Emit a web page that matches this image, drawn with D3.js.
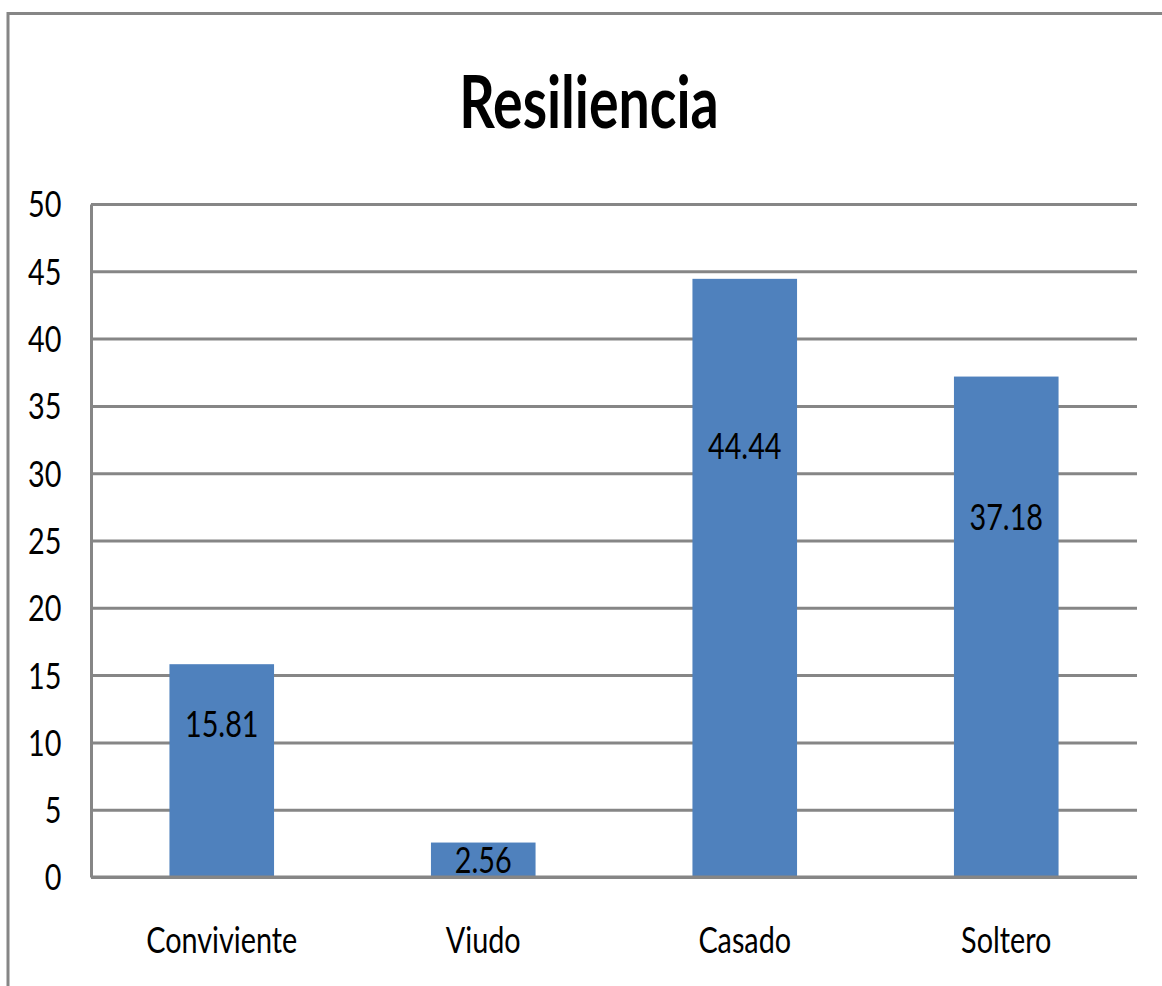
<!DOCTYPE html>
<html>
<head>
<meta charset="utf-8">
<script src="https://cdn.jsdelivr.net/npm/d3@7"></script>
<style>
  body { margin: 0; background: #fff; }
  text { font-family: Lato, "Liberation Sans", sans-serif; fill: #000; }
</style>
</head>
<body>
<div id="chart"></div>
<script>
/*global d3*/

// data
var categories = ["Conviviente", "Viudo", "Casado", "Soltero"];
var values = [15.81, 2.56, 44.44, 37.18];
var yTicks = [0, 5, 10, 15, 20, 25, 30, 35, 40, 45, 50];
var title = "Resiliencia";

var width = 1162,
    height = 986,
    margin = {top: 204, right: 25, bottom: 109, left: 91},
    plotW = width - margin.left - margin.right,
    plotH = height - margin.top - margin.bottom,
    squeeze = 0.8; // glyphs in the picture are narrow

var grey = "#868686",
    barColor = "#4F81BD";

var svg = d3.select("#chart").append("svg")
  .attr("width", width)
  .attr("height", height);

// chart frame (right and bottom edges run off the picture)
svg.append("rect")
  .attr("x", 8)
  .attr("y", 13.5)
  .attr("width", width + 20)
  .attr("height", height + 20)
  .style("fill", "none")
  .style("stroke", grey)
  .style("stroke-width", 3);

// title
svg.append("g")
  .attr("transform", "translate(" + ((8 + width + 8) / 2) + ",128) scale(0.77,1)")
  .append("text")
  .attr("text-anchor", "middle")
  .style("font-size", "72px")
  .style("font-weight", "bold")
  .text(title);

var g = svg.append("g")
  .attr("transform", "translate(" + margin.left + "," + margin.top + ")");

var x = d3.scaleBand()
  .domain(categories)
  .range([0, plotW])
  .paddingInner(0.6)
  .paddingOuter(0.3);

var y = d3.scaleLinear()
  .domain([0, 50])
  .range([plotH, 0]);

// y axis with gridlines
var yAxis = g.append("g")
  .call(d3.axisLeft(y)
    .tickValues(yTicks)
    .tickSize(-plotW)
    .tickSizeOuter(0)
    .tickPadding(37));

yAxis.select(".domain")
  .style("stroke", grey)
  .style("stroke-width", 3);

yAxis.selectAll(".tick line")
  .style("stroke", grey)
  .style("stroke-width", 3);

yAxis.selectAll(".tick text")
  .attr("transform", "scale(" + squeeze + ",1)")
  .attr("dy", "0.36em")
  .style("font-size", "36px")
  .style("font-family", "Lato, 'Liberation Sans', sans-serif")
  .style("fill", "#000");

var rows = categories.map(function(c, i) {
  return {name: c, value: values[i]};
});

// bars
g.selectAll("rect.bar")
  .data(rows)
  .enter()
  .append("rect")
  .attr("class", "bar")
  .attr("x", function(d) { return x(d.name); })
  .attr("y", function(d) { return y(d.value); })
  .attr("width", x.bandwidth())
  .attr("height", function(d) { return plotH - y(d.value); })
  .style("fill", barColor);

// redraw the zero line over the bars' base
g.append("line")
  .attr("x1", 0)
  .attr("x2", plotW)
  .attr("y1", y(0))
  .attr("y2", y(0))
  .style("stroke", grey)
  .style("stroke-width", 3);

// value labels, sitting inside the bars
g.selectAll("g.vlabel")
  .data(rows)
  .enter()
  .append("g")
  .attr("class", "vlabel")
  .attr("transform", function(d) {
    var ly = Math.max(y(d.value * 0.72), y(d.value) + 17);
    return "translate(" + (x(d.name) + x.bandwidth() / 2) + "," + ly + ") scale(" + squeeze + ",1)";
  })
  .append("text")
  .attr("text-anchor", "middle")
  .attr("dy", "0.36em")
  .style("font-size", "36px")
  .text(function(d) { return d3.format(".2f")(d.value); });

// category labels
g.selectAll("g.clabel")
  .data(rows)
  .enter()
  .append("g")
  .attr("class", "clabel")
  .attr("transform", function(d) {
    return "translate(" + (x(d.name) + x.bandwidth() / 2) + "," + (plotH + 76) + ") scale(" + squeeze + ",1)";
  })
  .append("text")
  .attr("text-anchor", "middle")
  .style("font-size", "36px")
  .text(function(d) { return d.name; });
</script>
</body>
</html>
